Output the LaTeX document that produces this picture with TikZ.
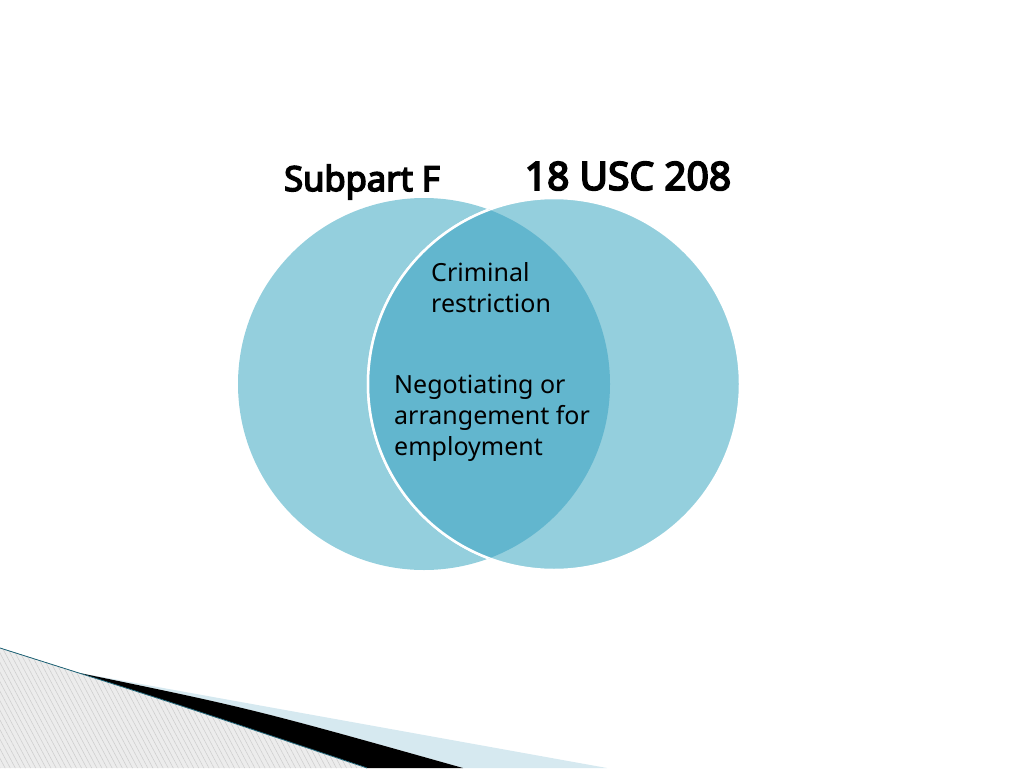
\documentclass[tikz,border=0pt]{standalone}
\usepackage{fontspec}
\setmainfont{Noto Sans}
\newfontfamily\headfont{Noto Sans}[AutoFakeBold=4.5]
\usetikzlibrary{positioning,patterns.meta}
\definecolor{lightdisc}{HTML}{94CFDD}
\definecolor{darkdisc}{HTML}{62B6CE}
\definecolor{paleband}{HTML}{D6E9F0}
\definecolor{tealedge}{HTML}{1E6478}
\begin{document}
\begin{tikzpicture}
            [x=1pt,y=-1pt,
             disc/.style={circle,fill=lightdisc,minimum size=372pt,inner sep=0pt},
             body/.style={font=\fontsize{25}{31}\selectfont,align=left,anchor=west,inner sep=0pt}]
            \useasboundingbox (0,0) rectangle (1024,768);
            % two sets
            \node[disc](a) at (424,384) {};
            \node[disc,draw=white,line width=2.5pt](b) at (554,384) {};
            \begin{scope}
              \clip (424,384) circle[radius=186];
              \fill[darkdisc] (554,384) circle[radius=186];
              \draw[white,line width=2.5pt] (554,384) circle[radius=186];
            \end{scope}
            % labels
            \node[font=\headfont\bfseries\fontsize{34.5}{42}\selectfont](subf) at (362,182) {Subpart F};
            \node[font=\headfont\bfseries\fontsize{39}{46}\selectfont](usc) at (628,176) {18 USC 208};
            \node[body](crim) at (431,288) {Criminal\\restriction};
            \node[body](nego) at (394,418) {Negotiating or\\arrangement for\\employment};
            % corner ribbon
            \fill[paleband] (80,673) -- (607,768) -- (463,768) .. controls (250,708) .. (60,669) -- cycle;
            \fill[black] (60,669) .. controls (250,708) .. (463,768) -- (367,768) .. controls (180,705) .. (0,648) -- cycle;
            \fill[gray!15] (0,648) .. controls (180,705) .. (367,768) -- (0,768) -- cycle;
            \fill[pattern={Lines[angle=118,distance=4.5pt,line width=0.5pt]},pattern color=gray!40] (0,648) .. controls (180,705) .. (367,768) -- (0,768) -- cycle;
            \draw[tealedge,line width=0.8pt] (0,648) .. controls (180,705) .. (367,768);
        \end{tikzpicture}
\end{document}
